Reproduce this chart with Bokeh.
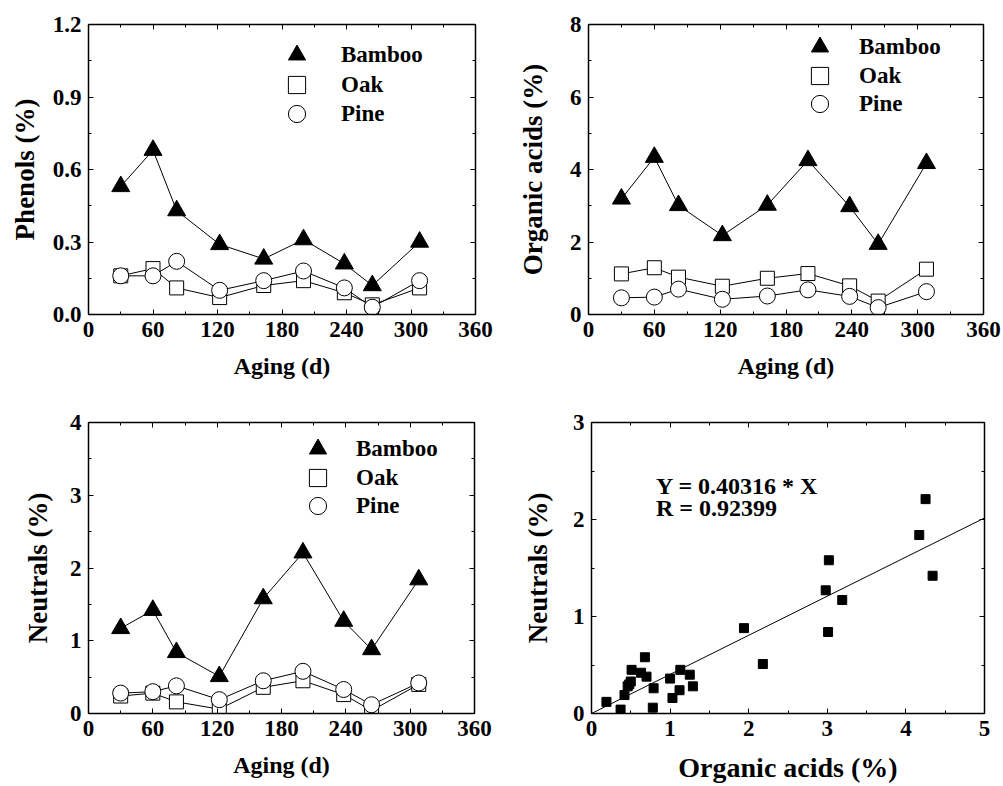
from bokeh.plotting import figure
from bokeh.layouts import column, row
from bokeh.models import (Range1d, FixedTicker, LinearAxis, Legend, LegendItem,
                          Label, Slope, CustomJSTickFormatter, NumeralTickFormatter)
from bokeh.embed import file_html
from bokeh.resources import INLINE

# ---------------- data ----------------
days = [30, 60, 82, 122, 163, 200, 238, 264, 308]

phenols_bamboo = [0.53, 0.68, 0.43, 0.29, 0.23, 0.31, 0.21, 0.12, 0.30]
phenols_oak = [0.16, 0.19, 0.11, 0.07, 0.12, 0.14, 0.09, 0.04, 0.11]
phenols_pine = [0.16, 0.16, 0.22, 0.10, 0.14, 0.18, 0.11, 0.03, 0.14]

acids_bamboo = [3.19, 4.34, 3.01, 2.18, 3.02, 4.25, 2.98, 1.94, 4.17]
acids_oak = [1.12, 1.29, 1.03, 0.78, 1.00, 1.13, 0.79, 0.37, 1.25]
acids_pine = [0.46, 0.48, 0.70, 0.42, 0.51, 0.68, 0.50, 0.19, 0.63]

neutrals_bamboo = [1.17, 1.42, 0.84, 0.51, 1.58, 2.21, 1.27, 0.88, 1.84]
neutrals_oak = [0.24, 0.28, 0.16, 0.06, 0.36, 0.45, 0.26, 0.04, 0.40]
neutrals_pine = [0.28, 0.30, 0.38, 0.19, 0.45, 0.58, 0.33, 0.12, 0.42]

fit_slope = 0.40316
fit_r = 0.92399

series_names = ["Bamboo", "Oak", "Pine"]

day_ticks = [0, 60, 120, 180, 240, 300, 360]
day_minor = [30, 90, 150, 210, 270, 330]
phen_ticks = [0.0, 0.3, 0.6, 0.9, 1.2]
phen_minor = [0.15, 0.45, 0.75, 1.05]
acid_ticks = [0, 2, 4, 6, 8]
acid_minor = [1, 3, 5, 7]
neut_ticks = [0, 1, 2, 3, 4]
neut_minor = [0.5, 1.5, 2.5, 3.5]
sc_x_ticks = [0, 1, 2, 3, 4, 5]
sc_x_minor = [0.5, 1.5, 2.5, 3.5, 4.5]
sc_y_ticks = [0, 1, 2, 3]
sc_y_minor = [0.5, 1.5, 2.5]

# ---------------- style ----------------
FONT = "Liberation Serif"
TICK_SIZE = "23px"


def style_axis(ax, labels=True, title=None, title_size="26px", title_standoff=10):
    ax.axis_line_width = 1.5
    ax.axis_line_color = "black"
    ax.major_tick_in = 5
    ax.major_tick_out = 0
    ax.minor_tick_in = 3
    ax.minor_tick_out = 0
    ax.major_tick_line_color = "black"
    ax.minor_tick_line_color = "black"
    ax.major_tick_line_width = 1
    ax.minor_tick_line_width = 1
    if labels:
        ax.major_label_text_font = FONT
        ax.major_label_text_font_size = TICK_SIZE
        ax.major_label_text_font_style = "bold"
        ax.major_label_text_color = "black"
        ax.major_label_standoff = 7
    else:
        ax.formatter = CustomJSTickFormatter(code="return ''")
        ax.major_label_standoff = 0
    if title:
        ax.axis_label = title
        ax.axis_label_text_font = FONT
        ax.axis_label_text_font_size = title_size
        ax.axis_label_text_font_style = "bold"
        ax.axis_label_text_color = "black"
        ax.axis_label_standoff = title_standoff


def make_fig(w, h, xr, yr, xt, xm, yt, ym, borders, xlabel, ylabel,
             yfmt=None, xsize="24px", ysize="27px", xstand=13, ystand=10):
    l, r, t, b = borders
    p = figure(width=w, height=h, x_range=Range1d(*xr), y_range=Range1d(*yr),
               output_backend="svg", toolbar_location=None,
               x_axis_type=None, y_axis_type=None,
               min_border_left=l, min_border_right=r,
               min_border_top=t, min_border_bottom=b)
    p.outline_line_color = "black"
    p.background_fill_color = "white"
    p.border_fill_color = "white"
    xtick = FixedTicker(ticks=xt, minor_ticks=xm)
    ytick = FixedTicker(ticks=yt, minor_ticks=ym)
    bx = LinearAxis(ticker=xtick)
    style_axis(bx, True, xlabel, xsize, xstand)
    ly = LinearAxis(ticker=ytick)
    if yfmt:
        ly.formatter = NumeralTickFormatter(format=yfmt)
    style_axis(ly, True, ylabel, ysize, ystand)
    ax_top = LinearAxis(ticker=xtick)
    style_axis(ax_top, False)
    ax_right = LinearAxis(ticker=ytick)
    style_axis(ax_right, False)
    p.add_layout(bx, "below")
    p.add_layout(ly, "left")
    p.add_layout(ax_top, "above")
    p.add_layout(ax_right, "right")
    return p


def add_series(p, xs, ys_list, legend_x, legend_bottoms, standoff):
    bam, oak, pine = ys_list
    for ys in (oak, pine, bam):
        p.line(xs, ys, line_color="black", line_width=1)
    r_oak = p.scatter(xs, oak, marker="square", size=14, fill_color="white",
                      line_color="black", line_width=1)
    r_pine = p.scatter(xs, pine, marker="circle", size=16, fill_color="white",
                       line_color="black", line_width=1)
    r_bam = p.scatter(xs, bam, marker="triangle", size=18, fill_color="black",
                      line_color="black", line_width=1)
    for name, rend, yb in zip(series_names, (r_bam, r_oak, r_pine), legend_bottoms):
        leg = Legend(items=[LegendItem(label=name, renderers=[rend])],
                     location=(legend_x, yb), padding=0, margin=0,
                     glyph_width=43, glyph_height=43, label_height=20,
                     spacing=0, label_standoff=standoff,
                     border_line_color=None, background_fill_alpha=0,
                     label_text_font=FONT, label_text_font_size="23px",
                     label_text_font_style="bold", label_text_color="black")
        p.add_layout(leg, "center")


# ---------------- panels ----------------
p1 = make_fig(503, 393, (0, 360), (0, 1.2), day_ticks, day_minor, phen_ticks, phen_minor,
              (88, 28, 24, 78), "Aging (d)", "Phenols (%)", yfmt="0.0", ystand=10)
add_series(p1, days, [phenols_bamboo, phenols_oak, phenols_pine],
           187, (238, 208, 179), 23)

p2 = make_fig(498, 393, (0, 360), (0, 8), day_ticks, day_minor, acid_ticks, acid_minor,
              (85, 18, 21, 79), "Aging (d)", "Organic acids (%)", ystand=19)
add_series(p2, days, [acids_bamboo, acids_oak, acids_pine],
           210, (246, 217, 189), 18)

p3 = make_fig(503, 393, (0, 360), (0, 4), day_ticks, day_minor, neut_ticks, neut_minor,
              (88, 29, 27, 73), "Aging (d)", "Neutrals (%)", ystand=14)
add_series(p3, days, [neutrals_bamboo, neutrals_oak, neutrals_pine],
           208, (243, 214, 186), 17)

p4 = make_fig(498, 393, (0, 5), (0, 3), sc_x_ticks, sc_x_minor, sc_y_ticks, sc_y_minor,
              (88, 17, 29, 69), "Organic acids (%)", "Neutrals (%)",
              xsize="28px", xstand=13, ystand=17)
sc_x = acids_bamboo + acids_oak + acids_pine
sc_y = neutrals_bamboo + neutrals_oak + neutrals_pine
p4.add_layout(Slope(gradient=fit_slope, y_intercept=0, line_color="black", line_width=1))
p4.scatter(sc_x, sc_y, marker="square", size=9, fill_color="black", line_color="black")
for txt, yv in ((f"Y = {fit_slope} * X", 2.35), (f"R = {fit_r}", 2.12)):
    p4.add_layout(Label(x=0.82, y=yv, text=txt, text_baseline="middle",
                        text_font=FONT, text_font_size="24px", text_font_style="bold",
                        text_color="black"))

layout = column(row(p1, p2), row(p3, p4))

open("out.html", "w").write(file_html(layout, INLINE))
